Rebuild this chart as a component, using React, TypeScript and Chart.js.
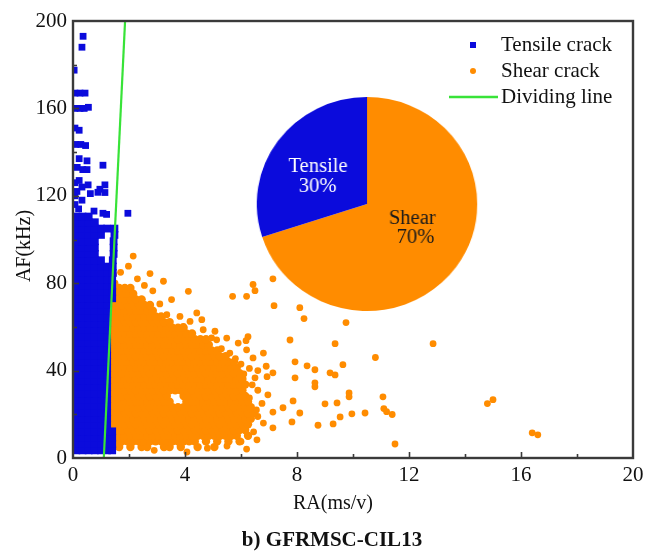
import React, { useEffect, useRef } from 'react';
import { Chart, registerables } from 'chart.js';

Chart.register(...registerables);

// ---------------- data ----------------
const seriesNames = ['Tensile crack', 'Shear crack', 'Dividing line'];
const xAxisTitle = 'RA(ms/v)';
const yAxisTitle = 'AF(kHz)';
const captionText = 'b) GFRMSC-CIL13';
const xLimits = [0, 20];
const yLimits = [0, 200];
const xTickStep = 2;
const xLabelEvery = 4;
const yTickStep = 20;
const yLabelEvery = 40;

const dividingLinePts: [number, number][] = [[1.1, 0], [1.86, 200]];

// Tensile (blue) dense band: [AF, RA values]
const tensileCols = [0.12, 0.34, 0.56, 0.78, 1.0, 1.22];
const tensileColsWide = [0.12, 0.34, 0.56, 0.78, 1.0, 1.22, 1.4];
const tensileRows: [number, number[]][] = [
  [3.5, tensileColsWide], [6.4, tensileColsWide], [9.3, tensileColsWide], [12.2, tensileColsWide],
  [15.1, tensileCols], [18.0, tensileCols], [20.9, tensileCols], [23.8, tensileCols],
  [26.7, tensileCols], [29.6, tensileCols], [32.5, tensileCols], [35.4, tensileCols],
  [38.3, tensileCols], [41.2, tensileCols], [44.1, tensileCols], [47.0, tensileCols],
  [49.9, tensileCols], [52.8, tensileCols], [55.7, tensileCols], [58.6, tensileCols],
  [61.5, tensileCols], [64.4, tensileCols], [67.3, tensileCols], [70.2, tensileCols],
  [73.1, tensileColsWide], [76.0, tensileColsWide], [78.9, tensileColsWide], [81.8, tensileColsWide],
  [84.7, [0.12, 0.34, 0.56, 0.78, 1.0, 1.22, 1.42]],
  [87.6, [0.12, 0.34, 0.56, 0.78, 1.0, 1.22, 1.42]],
  [90.5, [0.12, 0.34, 0.56, 0.78, 1.0, 1.42]],
  [93.4, [0.12, 0.34, 0.56, 0.78, 1.45]],
  [96.3, [0.12, 0.34, 0.56, 0.78, 1.45]],
  [99.2, [0.12, 0.34, 0.56, 0.78, 1.45]],
  [102.1, [0.12, 0.34, 0.56, 0.78, 1.0, 1.48]],
  [105.0, [0.12, 0.34, 0.56, 0.78, 1.0, 1.22, 1.48]],
  [107.9, [0.12, 0.34, 0.56, 0.78]],
  [110.5, [0.12, 0.34, 0.56]],
];
// Tensile sparse points [RA, AF]
const tensileSparse: [number, number][] = [
  [0.36, 193], [0.32, 188], [0.04, 177.5], [0.07, 167], [0.25, 167], [0.43, 167],
  [0.07, 160], [0.25, 160], [0.4, 160], [0.55, 160.5], [0.07, 151], [0.22, 150],
  [0.1, 143.5], [0.28, 143.5], [0.45, 143], [0.22, 137], [0.5, 136], [0.15, 133],
  [0.35, 132], [0.5, 132], [1.07, 134], [0.07, 126], [0.22, 127], [0.32, 124],
  [0.54, 125], [0.96, 123], [1.14, 125], [1.14, 121.5], [0.89, 121.6], [0.07, 120],
  [0.14, 122], [0.32, 118], [0.62, 121], [0.07, 116], [0.2, 114], [1.96, 112],
  [1.07, 112], [1.2, 111.5], [0.75, 113],
];

// Shear (orange) dense core: [AF, RA values]
const shearRows: [number, number[]][] = [
  [5.0, [1.45, 1.65, 2.05, 2.45, 2.65, 3.25, 3.45, 3.85, 4.45, 5.05]],
  [7.6, [1.35, 1.55, 1.75, 1.95, 2.15, 2.35, 2.55, 2.75, 2.95, 3.15, 3.35, 3.55, 3.75, 3.95, 4.15, 4.35, 4.75, 5.15, 5.55, 5.95]],
  [10.2, [1.45, 1.65, 1.85, 2.05, 2.25, 2.45, 2.65, 2.85, 3.05, 3.25, 3.45, 3.65, 3.85, 4.05, 4.25, 4.45, 4.65, 4.85, 5.05, 5.25, 5.45, 5.65, 5.85, 6.25]],
  [12.8, [1.35, 1.55, 1.75, 1.95, 2.15, 2.35, 2.55, 2.75, 2.95, 3.15, 3.35, 3.55, 3.75, 3.95, 4.15, 4.35, 4.55, 4.75, 4.95, 5.15, 5.35, 5.55, 5.75, 5.95, 6.15]],
  [15.4, [1.45, 1.65, 1.85, 2.05, 2.25, 2.45, 2.65, 2.85, 3.05, 3.25, 3.45, 3.65, 3.85, 4.05, 4.25, 4.45, 4.65, 4.85, 5.05, 5.25, 5.45, 5.65, 5.85, 6.05, 6.25]],
  [18.0, [1.35, 1.55, 1.75, 1.95, 2.15, 2.35, 2.55, 2.75, 2.95, 3.15, 3.35, 3.55, 3.75, 3.95, 4.15, 4.35, 4.55, 4.75, 4.95, 5.15, 5.35, 5.55, 5.75, 5.95, 6.15, 6.35]],
  [20.6, [1.45, 1.65, 1.85, 2.05, 2.25, 2.45, 2.65, 2.85, 3.05, 3.25, 3.45, 3.65, 3.85, 4.05, 4.25, 4.45, 4.65, 4.85, 5.05, 5.25, 5.45, 5.65, 5.85, 6.05, 6.25, 6.45]],
  [23.2, [1.35, 1.55, 1.75, 1.95, 2.15, 2.35, 2.55, 2.75, 2.95, 3.15, 3.35, 3.55, 3.75, 3.95, 4.15, 4.35, 4.55, 4.75, 4.95, 5.15, 5.35, 5.55, 5.75, 5.95, 6.15, 6.35]],
  [25.8, [1.45, 1.65, 1.85, 2.05, 2.25, 2.45, 2.65, 2.85, 3.05, 3.25, 3.45, 4.05, 4.25, 4.45, 4.65, 4.85, 5.05, 5.25, 5.45, 5.65, 5.85, 6.05, 6.25]],
  [28.4, [1.35, 1.55, 1.75, 1.95, 2.15, 2.35, 2.55, 2.75, 2.95, 3.15, 3.35, 3.95, 4.15, 4.35, 4.55, 4.75, 4.95, 5.15, 5.35, 5.55, 5.75, 5.95, 6.15]],
  [31.0, [1.45, 1.65, 1.85, 2.05, 2.25, 2.45, 2.65, 2.85, 3.05, 3.25, 3.45, 3.65, 3.85, 4.05, 4.25, 4.45, 4.65, 4.85, 5.05, 5.25, 5.45, 5.65, 5.85, 6.05]],
  [33.6, [1.35, 1.55, 1.75, 1.95, 2.15, 2.35, 2.55, 2.75, 2.95, 3.15, 3.35, 3.55, 3.75, 3.95, 4.15, 4.35, 4.55, 4.75, 4.95, 5.15, 5.35, 5.55, 5.75, 5.95, 6.15]],
  [36.2, [1.45, 1.65, 1.85, 2.05, 2.25, 2.45, 2.65, 2.85, 3.05, 3.25, 3.45, 3.65, 3.85, 4.05, 4.25, 4.45, 4.65, 4.85, 5.05, 5.25, 5.45, 5.65, 5.85, 6.05]],
  [38.8, [1.35, 1.55, 1.75, 1.95, 2.15, 2.35, 2.55, 2.75, 2.95, 3.15, 3.35, 3.55, 3.75, 3.95, 4.15, 4.35, 4.55, 4.75, 4.95, 5.15, 5.35, 5.55, 5.75, 5.95]],
  [41.4, [1.45, 1.65, 1.85, 2.05, 2.25, 2.45, 2.65, 2.85, 3.05, 3.25, 3.45, 3.65, 3.85, 4.05, 4.25, 4.45, 4.65, 4.85, 5.05, 5.25, 5.45, 5.65, 5.85]],
  [44.0, [1.35, 1.55, 1.75, 1.95, 2.15, 2.35, 2.55, 2.75, 2.95, 3.15, 3.35, 3.55, 3.75, 3.95, 4.15, 4.35, 4.55, 4.75, 4.95, 5.15, 5.35, 5.55, 5.75]],
  [46.6, [1.45, 1.65, 1.85, 2.05, 2.25, 2.45, 2.65, 2.85, 3.05, 3.25, 3.45, 3.65, 3.85, 4.05, 4.25, 4.45, 4.65, 4.85, 5.05, 5.25, 5.45]],
  [49.2, [1.35, 1.55, 1.75, 1.95, 2.15, 2.35, 2.55, 2.75, 2.95, 3.15, 3.35, 3.55, 3.75, 3.95, 4.15, 4.35, 4.55, 4.75, 4.95, 5.15]],
  [51.8, [1.45, 1.65, 1.85, 2.05, 2.25, 2.45, 2.65, 2.85, 3.05, 3.25, 3.45, 3.65, 3.85, 4.05, 4.25, 4.45, 4.65, 4.85]],
  [54.4, [1.35, 1.55, 1.75, 1.95, 2.15, 2.35, 2.55, 2.75, 2.95, 3.15, 3.35, 3.55, 3.75, 3.95, 4.15, 4.35, 4.55, 4.75]],
  [57.0, [1.45, 1.65, 1.85, 2.05, 2.25, 2.45, 2.65, 2.85, 3.05, 3.25, 3.45, 3.65, 3.85, 4.05, 4.25]],
  [59.6, [1.35, 1.55, 1.75, 1.95, 2.15, 2.35, 2.55, 2.75, 2.95, 3.15, 3.35, 3.55, 3.75, 3.95]],
  [62.2, [1.45, 1.65, 1.85, 2.05, 2.25, 2.45, 2.65, 2.85, 3.05, 3.25, 3.45]],
  [64.8, [1.35, 1.55, 1.75, 1.95, 2.15, 2.35, 2.55, 2.75, 2.95, 3.15]],
  [67.4, [1.45, 1.65, 1.85, 2.05, 2.25, 2.45, 2.65, 2.85]],
  [70.0, [1.35, 1.55, 1.75, 1.95, 2.15, 2.35, 2.55, 2.75]],
  [72.6, [1.45, 1.65, 1.85, 2.05, 2.25, 2.45]],
  [75.2, [1.55, 1.75, 1.95, 2.15]],
  [77.8, [1.65, 1.85, 2.05]],
];
// Shear sparse points [RA, AF]
const shearSparse: [number, number][] = [
  [2.15, 92.4], [1.98, 87.8], [2.75, 84.4], [3.23, 80.9], [4.12, 76.3], [3.52, 72.5],
  [2.3, 82], [1.7, 85], [2.55, 79], [1.45, 84], [1.5, 80], [2.85, 76.5], [3.1, 70.5],
  [3.35, 65.6], [3.82, 64.8], [4.42, 66.4], [4.6, 63.3], [4.18, 62.5], [3.94, 60.2],
  [4.65, 58.7], [5.07, 58], [5.13, 54.1], [4.95, 55], [5.49, 54.9], [5.9, 52.6], [6.2, 49.5],
  [5.7, 74], [6.2, 74], [6.43, 79.4], [6.5, 76.6], [7.14, 82], [7.18, 69.7], [8.1, 68.8],
  [8.25, 63.8], [9.75, 62], [7.75, 54], [9.36, 52.3], [10.8, 46], [6.25, 55.5], [6.18, 53.7],
  [5.3, 50], [5.6, 48], [5.8, 45.5], [6.0, 43], [6.3, 41], [6.6, 40], [6.9, 42], [6.1, 38.5],
  [6.8, 48], [6.43, 45.8], [7.93, 44], [8.36, 42.2], [8.64, 40.4], [9.18, 39], [9.36, 38],
  [9.64, 42.7], [7.14, 39], [6.5, 36.7], [6.93, 37.2], [7.93, 36.7], [8.64, 34.4], [8.64, 32.6],
  [9.86, 29.8], [9.86, 28], [11.07, 28], [6.96, 28.9], [7.86, 26.1], [9.0, 24.8], [9.43, 25.2],
  [7.14, 21], [7.5, 23], [8.1, 20.6], [9.54, 18.8], [9.96, 20.2], [10.43, 20.6], [11.1, 22.6],
  [11.2, 21.2], [11.4, 19.9], [8.75, 15], [9.29, 15.6], [7.82, 16.5], [7.14, 13.8], [11.5, 6.4],
  [4.07, 2.75], [6.2, 4.1], [6.57, 8.3], [12.86, 52.3], [14.8, 24.9], [15.0, 26.7], [16.4, 11.5],
  [16.6, 10.6], [6.6, 31], [6.75, 25], [6.6, 19], [6.8, 16], [6.45, 12], [6.0, 7.5], [5.5, 5.5],
  [4.8, 4.5], [2.9, 3.5], [6.4, 33.5], [6.55, 22], [6.3, 27.5],
];

// Inset pie
const pieLabels = ['Shear', 'Tensile'];
const pieValues = [70, 30];

// ---------------- styles ----------------
const FONT = '"Liberation Serif", "Times New Roman", serif';
const BLUE = '#0b0bdc';
const ORANGE = '#ff8c00';
const GREEN = '#38e338';
const FRAME = '#3a3a3a';
const TEXT = '#111111';

const toPoints = (rows: [number, number[]][], sparse: [number, number][]) => [
  ...rows.flatMap(([y, xs]) => xs.map((x) => ({ x, y }))),
  ...sparse.map(([x, y]) => ({ x, y })),
];
const countRows = (rows: [number, number[]][]) => rows.reduce((n, [, xs]) => n + xs.length, 0);
const tensileCoreCount = countRows(tensileRows);
const shearCoreCount = countRows(shearRows);

const framePlugin = {
  id: 'frameTicks',
  afterDatasetsDraw(chart: any) {
    const { ctx, chartArea } = chart;
    const { left, right, top, bottom } = chartArea;
    const xs = chart.scales.x;
    const ys = chart.scales.y;
    ctx.save();
    ctx.strokeStyle = FRAME;
    ctx.lineWidth = 1.6;
    xs.ticks.forEach((t: any) => {
      if (t.value <= xLimits[0] || t.value >= xLimits[1]) return;
      const px = Math.round(xs.getPixelForValue(t.value)) + 0.5;
      const len = t.value % xLabelEvery === 0 ? 6 : 4;
      ctx.beginPath();
      ctx.moveTo(px, bottom);
      ctx.lineTo(px, bottom - len);
      ctx.stroke();
    });
    ys.ticks.forEach((t: any) => {
      if (t.value <= yLimits[0] || t.value >= yLimits[1]) return;
      const py = Math.round(ys.getPixelForValue(t.value)) + 0.5;
      const len = t.value % yLabelEvery === 0 ? 6 : 4;
      ctx.beginPath();
      ctx.moveTo(left, py);
      ctx.lineTo(left + len, py);
      ctx.stroke();
    });
    ctx.lineWidth = 2.4;
    ctx.strokeRect(left, top, right - left, bottom - top);
    ctx.restore();
  },
};

const legendPlugin = {
  id: 'insetLegend',
  afterDraw(chart: any) {
    const { ctx, chartArea } = chart;
    const mx = chartArea.right - 160;
    const tx = chartArea.right - 132;
    const y0 = chartArea.top + 24;
    const dy = 26;
    ctx.save();
    ctx.font = `21px ${FONT}`;
    ctx.textAlign = 'left';
    ctx.textBaseline = 'middle';
    ctx.fillStyle = BLUE;
    ctx.fillRect(mx - 3, y0 - 3, 6, 6);
    ctx.fillStyle = ORANGE;
    ctx.beginPath();
    ctx.arc(mx, y0 + dy, 3, 0, Math.PI * 2);
    ctx.fill();
    ctx.strokeStyle = GREEN;
    ctx.lineWidth = 2.5;
    ctx.beginPath();
    ctx.moveTo(chartArea.right - 184, y0 + 2 * dy);
    ctx.lineTo(chartArea.right - 135, y0 + 2 * dy);
    ctx.stroke();
    ctx.fillStyle = TEXT;
    seriesNames.forEach((name, i) => {
      ctx.fillText(name, tx, y0 + i * dy);
    });
    ctx.restore();
  },
};

const titlesPlugin = {
  id: 'axisTitles',
  afterDraw(chart: any) {
    const { ctx, chartArea } = chart;
    ctx.save();
    ctx.fillStyle = TEXT;
    ctx.textAlign = 'center';
    ctx.textBaseline = 'middle';
    ctx.font = `20px ${FONT}`;
    ctx.fillText(xAxisTitle, chartArea.left + 260, chartArea.bottom + 46);
    ctx.save();
    ctx.translate(25, chartArea.top + 225);
    ctx.rotate(-Math.PI / 2);
    ctx.fillText(yAxisTitle, 0, 0);
    ctx.restore();
    ctx.font = `bold 21px ${FONT}`;
    ctx.fillText(captionText, chartArea.left + 259, chartArea.bottom + 83);
    ctx.restore();
  },
};

const pieLabelPlugin = {
  id: 'pieLabels',
  afterDatasetsDraw(chart: any) {
    const arc = chart.getDatasetMeta(0).data[0];
    if (!arc) return;
    const cx = arc.x;
    const cy = arc.y;
    const { ctx } = chart;
    ctx.save();
    ctx.font = `20px ${FONT}`;
    ctx.textAlign = 'center';
    ctx.textBaseline = 'middle';
    ctx.fillStyle = '#1a1a1a';
    ctx.fillText(pieLabels[0], cx + 44, cy + 15);
    ctx.fillText(`${pieValues[0]}%`, cx + 47, cy + 34);
    ctx.fillStyle = '#ffffff';
    ctx.fillText(pieLabels[1], cx - 47.5, cy - 37.5);
    ctx.fillText(`${pieValues[1]}%`, cx - 48, cy - 17.5);
    ctx.restore();
  },
};

export default function App() {
  const mainRef = useRef<HTMLCanvasElement | null>(null);
  const pieRef = useRef<HTMLCanvasElement | null>(null);

  useEffect(() => {
    if (!mainRef.current || !pieRef.current) return;
    const main = new Chart(mainRef.current, {
      type: 'scatter',
      data: {
        datasets: [
          {
            label: seriesNames[0],
            data: toPoints(tensileRows, tensileSparse),
            backgroundColor: BLUE,
            borderColor: BLUE,
            pointStyle: 'rect',
            pointRadius: (c: any) => (c.dataIndex < tensileCoreCount ? 5.5 : 4.8),
            pointBorderWidth: 0,
            order: 1,
          } as any,
          {
            label: seriesNames[1],
            data: toPoints(shearRows, shearSparse),
            backgroundColor: ORANGE,
            borderColor: ORANGE,
            pointStyle: 'circle',
            pointRadius: (c: any) => (c.dataIndex < shearCoreCount ? 4.2 : 3.4),
            pointBorderWidth: 0,
            order: 2,
          } as any,
          {
            type: 'line',
            label: seriesNames[2],
            data: dividingLinePts.map(([x, y]) => ({ x, y })),
            borderColor: GREEN,
            borderWidth: 2.2,
            pointRadius: 0,
            fill: false,
            order: 0,
          } as any,
        ],
      },
      options: {
        animation: false,
        responsive: true,
        maintainAspectRatio: false,
        events: [],
        layout: { padding: { left: 0, right: 30, top: 21, bottom: 0 } },
        plugins: { legend: { display: false }, tooltip: { enabled: false }, title: { display: false } },
        scales: {
          x: {
            type: 'linear',
            min: xLimits[0],
            max: xLimits[1],
            grid: { display: false, drawTicks: false },
            border: { display: false },
            ticks: {
              stepSize: xTickStep,
              autoSkip: false,
              maxRotation: 0,
              padding: 5,
              color: TEXT,
              font: { family: FONT, size: 21 },
              callback: (v: any) => (Number(v) % xLabelEvery === 0 ? String(v) : ''),
            },
            afterFit: (s: any) => { s.height = 94; },
          },
          y: {
            type: 'linear',
            min: yLimits[0],
            max: yLimits[1],
            grid: { display: false, drawTicks: false },
            border: { display: false },
            ticks: {
              stepSize: yTickStep,
              autoSkip: false,
              padding: 6,
              color: TEXT,
              font: { family: FONT, size: 21 },
              callback: (v: any) => (Number(v) % yLabelEvery === 0 ? String(v) : ''),
            },
            afterFit: (s: any) => { s.width = 73; },
          },
        },
      },
      plugins: [framePlugin, legendPlugin, titlesPlugin],
    });

    const pie = new Chart(pieRef.current, {
      type: 'pie',
      data: {
        labels: pieLabels,
        datasets: [
          {
            data: pieValues,
            backgroundColor: [ORANGE, BLUE],
            borderWidth: 0,
            hoverBorderWidth: 0,
            hoverOffset: 0,
            offset: 0,
          } as any,
        ],
      },
      options: {
        animation: false,
        responsive: true,
        maintainAspectRatio: false,
        events: [],
        layout: { padding: 0 },
        plugins: { legend: { display: false }, tooltip: { enabled: false } },
      },
      plugins: [pieLabelPlugin],
    });

    return () => {
      main.destroy();
      pie.destroy();
    };
  }, []);

  return (
    <div style={{ position: 'fixed', left: 0, top: 0, width: 663, height: 552, background: '#ffffff' }}>
      <div style={{ position: 'absolute', left: 0, top: 0, width: 663, height: 552 }}>
        <canvas ref={mainRef} />
      </div>
      <div
        style={{
          position: 'absolute',
          left: 260,
          top: 97,
          width: 214,
          height: 214,
          transform: 'scaleX(1.03)',
          transformOrigin: '50% 50%',
        }}
      >
        <canvas ref={pieRef} />
      </div>
    </div>
  );
}
